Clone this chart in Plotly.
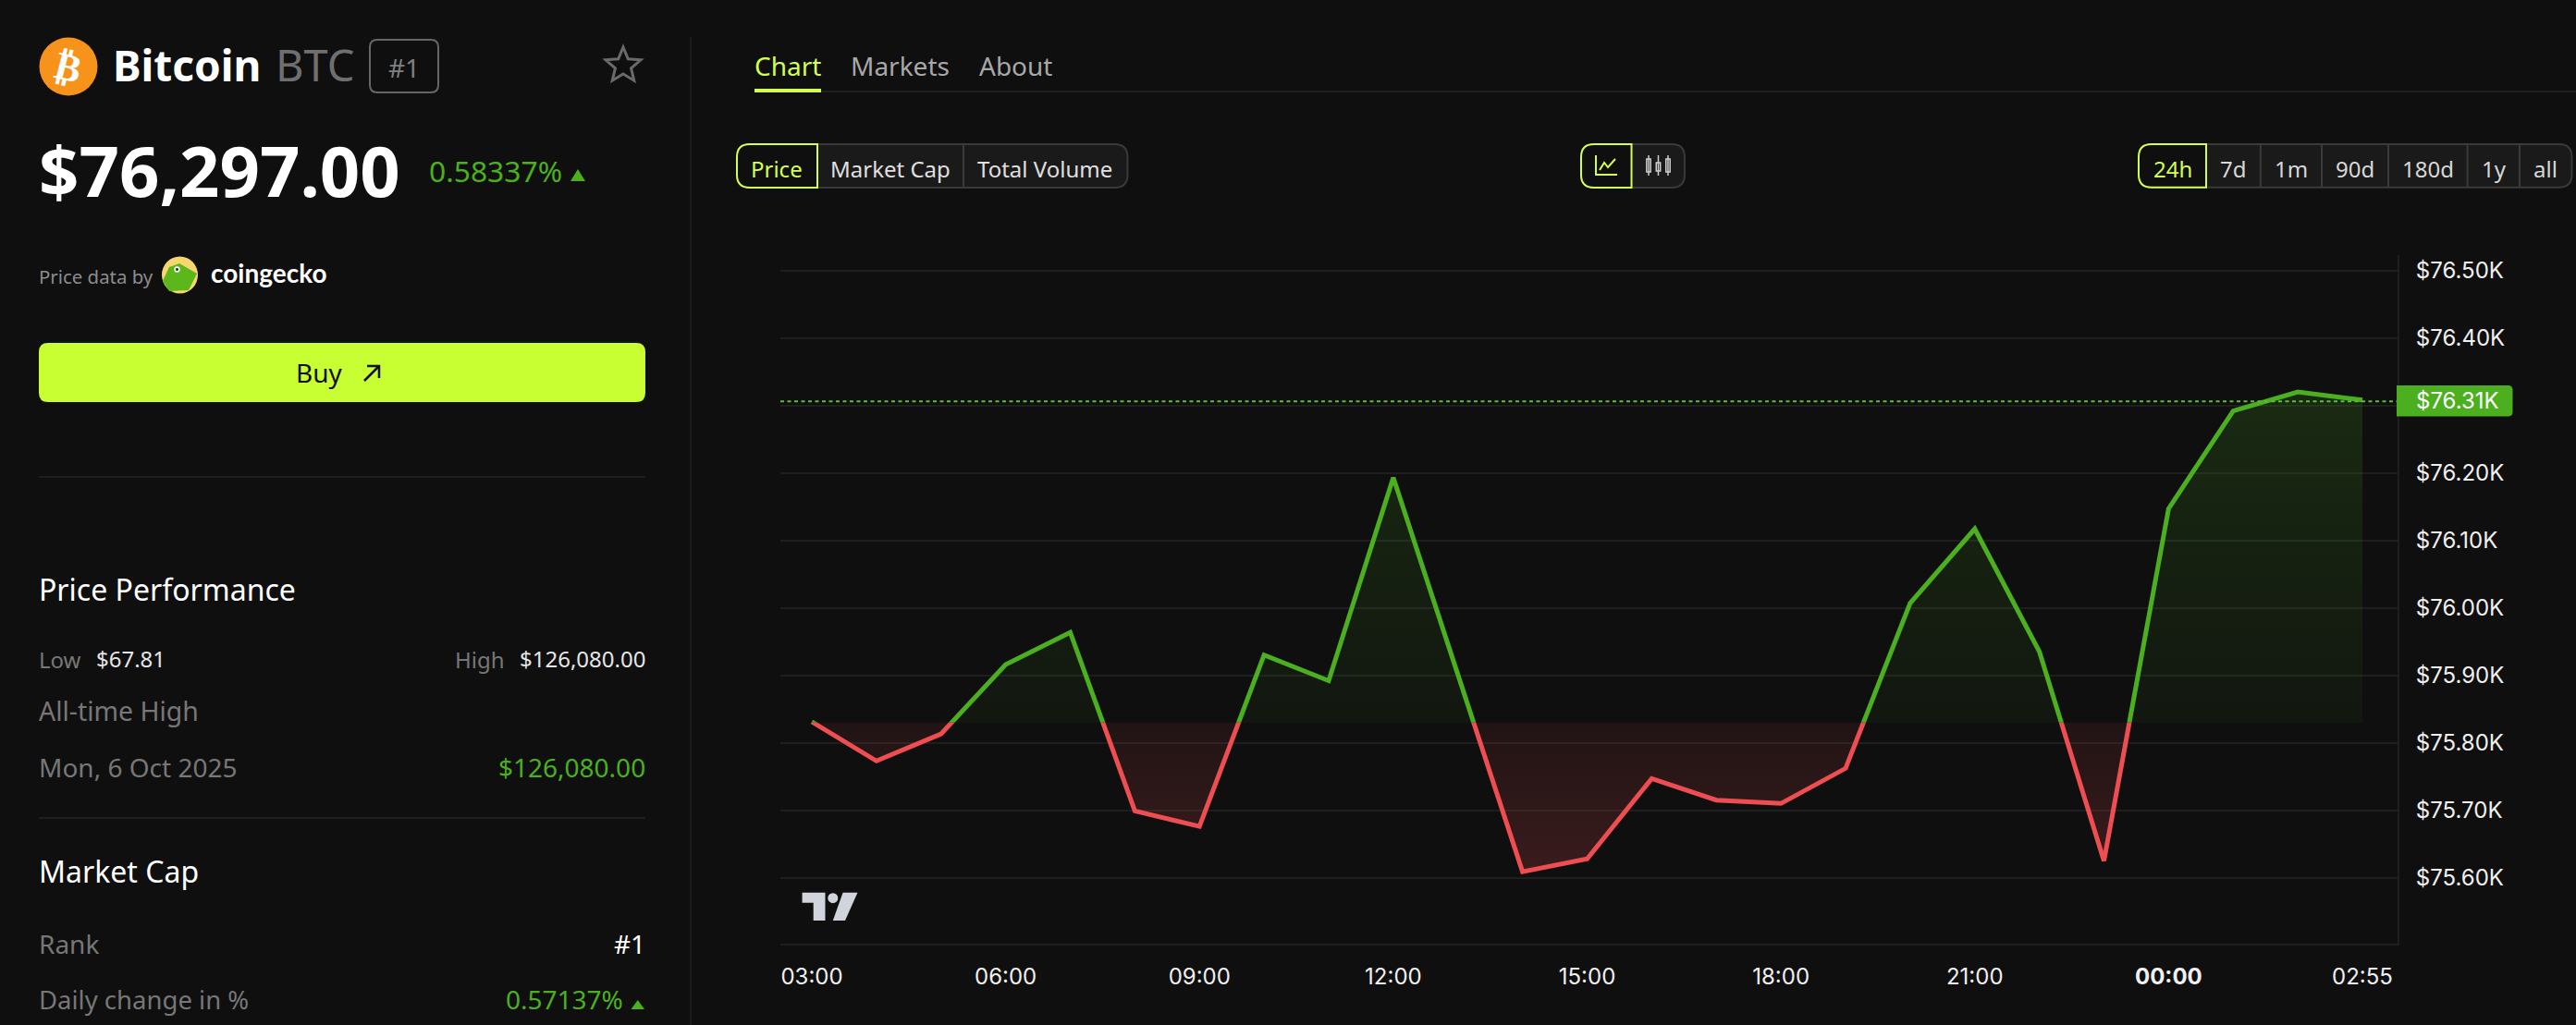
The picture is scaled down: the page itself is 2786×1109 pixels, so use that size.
import math
import plotly.graph_objects as go

W, H = 2786, 1109

hours = ["03:00","04:00","05:00","06:00","07:00","08:00","09:00","10:00","11:00","12:00",
         "13:00","14:00","15:00","16:00","17:00","18:00","19:00","20:00","21:00","22:00",
         "23:00","00:00","01:00","02:00","02:55"]
price_k = [75.831,75.773,75.813,75.916,75.9635,75.699,75.676,75.930,75.892,76.193,
           75.901,75.609,75.628,75.747,75.715,75.710,75.762,76.007,76.117,75.935,
           75.625,76.147,76.292,76.320,76.308]
baseline_value = 75.83
baseline_k = [baseline_value] * len(hours)
current_line = 76.306
x_tick_vals = ["03:00","06:00","09:00","12:00","15:00","18:00","21:00","00:00","02:55"]
x_tick_text = ["03:00","06:00","09:00","12:00","15:00","18:00","21:00","<b>00:00</b>","02:55"]
upper_ticks = [75.9,76.0,76.1,76.2,76.3,76.4,76.5]
upper_text = ["$75.90K","$76.00K","$76.10K","$76.20K","","$76.40K","$76.50K"]
lower_ticks = [75.6,75.7,75.8]
lower_text = ["$75.60K","$75.70K","$75.80K"]

BG = "#0f0f0f"
LIME = "#d4ff50"
GREEN = "#4caf1f"
RED = "#ee4e52"
GRID = "#1e1e1e"
UI = "Noto Sans"
AX = "Inter"

PL, PR, PT, PB = 844, 2593, 276, 1021
Y_BASE = 781.7

def X(p): return p / W
def Y(p): return 1 - p / H

shapes, annos = [], []

def text(x, y, s, size, color, anchor="left", weight=400, family=UI, angle=0):
    annos.append(dict(x=X(x), y=Y(y), xref="paper", yref="paper", text=s, showarrow=False,
                      xanchor=anchor, yanchor="middle", textangle=angle, borderpad=0, borderwidth=0,
                      font=dict(family=family, size=size, color=color, weight=weight)))

def path(pts, fill=None, line=None, width=0, close=False):
    d = "M " + " L ".join(f"{X(a):.5f} {Y(b):.5f}" for a, b in pts) + (" Z" if close else "")
    shapes.append(dict(type="path", path=d, xref="paper", yref="paper", layer="above",
                       fillcolor=fill or "rgba(0,0,0,0)",
                       line=dict(color=line or "rgba(0,0,0,0)", width=width)))

def rrect(x0, y0, x1, y1, rl=0, rr=0, fill=None, line=None, width=0):
    def pt(a, b): return f"{X(a):.5f} {Y(b):.5f}"
    d = (f"M {pt(x0+rl,y0)} L {pt(x1-rr,y0)} Q {pt(x1,y0)} {pt(x1,y0+rr)} L {pt(x1,y1-rr)} "
         f"Q {pt(x1,y1)} {pt(x1-rr,y1)} L {pt(x0+rl,y1)} Q {pt(x0,y1)} {pt(x0,y1-rl)} "
         f"L {pt(x0,y0+rl)} Q {pt(x0,y0)} {pt(x0+rl,y0)} Z")
    shapes.append(dict(type="path", path=d, xref="paper", yref="paper", layer="above",
                       fillcolor=fill or "rgba(0,0,0,0)",
                       line=dict(color=line or "rgba(0,0,0,0)", width=width)))

def circle(cx, cy, r, fill, ry=None):
    ry = ry or r
    shapes.append(dict(type="circle", xref="paper", yref="paper", layer="above",
                       x0=X(cx-r), x1=X(cx+r), y0=Y(cy+ry), y1=Y(cy-ry),
                       fillcolor=fill, line=dict(width=0)))

def hline(x0, x1, y, color="#1f1f1f", width=2):
    path([(x0, y), (x1, y)], line=color, width=width)

def segmented(x0, x1, y0, y1, dividers, active_right):
    rrect(x0, y0, x1, y1, 14, 14, fill="#1a1a1a", line="#3a3a3a", width=2)
    for d in dividers:
        path([(d, y0), (d, y1)], line="#3a3a3a", width=2)
    rrect(x0, y0, active_right, y1, 14, 0, fill=BG, line=LIME, width=2)

def triangle(x0, x1, y0, y1, color):
    path([(x0, y1), ((x0+x1)/2, y0), (x1, y1)], fill=color, close=True)

# ---- left panel ----
circle(74, 72, 31.5, "#f7931a")
text(74, 72, "<b>₿</b>", 42, "#ffffff", "center", family="DejaVu Sans", angle=14)
text(122, 70, "Bitcoin", 46, "#ffffff", weight=700)
text(298, 70, "BTC", 47, "#6f6f6f")
rrect(400, 43, 474, 100, 8, 8, line="#666666", width=2)
text(437, 73, "#1", 28, "#808080", "center")
star = []
for k in range(10):
    r = 20 if k % 2 == 0 else 9
    a = -math.pi/2 + k*math.pi/5
    star.append((674 + r*math.cos(a), 71 + r*math.sin(a)))
path(star, line="#6a6a6a", width=3, close=True)
text(42, 183, "$76,297.00", 76, "#ffffff", weight=700)
text(464, 185, "0.58337%", 31.8, GREEN)
triangle(617, 633, 183, 196, GREEN)
text(42, 299, "Price data by", 20.4, "#8c8c8c")
circle(194.5, 297.5, 19.5, "#f5d76e", ry=20)
path([(183, 289), (194, 285), (213, 296), (204, 314), (183, 315), (176, 304)], fill="#5cb81a", close=True)
circle(191.5, 291.5, 3.2, "#ffffff")
circle(191.5, 291.5, 1.4, "#111111")
text(228, 295, "coingecko", 28, "#ffffff", weight=700, family="Lato")
rrect(42, 371, 698, 435, 10, 10, fill="#c8ff33")
text(345, 403, "Buy", 28, "#101010", "center")
path([(394, 412), (410, 396)], line="#101010", width=2.5)
path([(397, 396), (410, 396), (410, 409)], line="#101010", width=2.5)
hline(42, 698, 516)
path([(747, 40), (747, H)], line="#1c1c1c", width=2)
text(42, 637, "Price Performance", 32, "#ffffff")
text(42, 713, "Low", 24, "#777777")
text(104, 712, "$67.81", 24, "#e6e6e6")
text(492, 713, "High", 24, "#777777")
text(698, 712, "$126,080.00", 24, "#e6e6e6", "right")
text(42, 769, "All-time High", 28.4, "#777777")
text(42, 830, "Mon, 6 Oct 2025", 28, "#777777")
text(698, 830, "$126,080.00", 28, GREEN, "right")
hline(42, 698, 885)
text(42, 942, "Market Cap", 32, "#ffffff")
text(42, 1021, "Rank", 28, "#777777")
text(698, 1021, "#1", 28, "#ffffff", "right")
text(42, 1081, "Daily change in %", 27.5, "#777777")
text(674, 1081, "0.57137%", 28, GREEN, "right")
triangle(682.5, 697, 1082, 1092, GREEN)

# ---- tabs ----
text(852, 71, "Chart", 28, LIME, "center")
text(974, 71, "Markets", 28, "#a8a8a8", "center")
text(1098, 71, "About", 28, "#a8a8a8", "center")
hline(888, W, 99, "#1f1f1f", 2)
rrect(816, 96, 888, 100, fill=LIME)

# ---- segmented controls ----
segmented(797, 1219.5, 156, 203, [1042], 884)
text(840, 182, "Price", 24, LIME, "center")
text(963, 182, "Market Cap", 24, "#e0e0e0", "center")
text(1130, 182, "Total Volume", 24, "#e0e0e0", "center")

segmented(1710, 1822, 156, 203, [], 1764.5)
path([(1726, 168), (1726, 189), (1749, 189)], line=LIME, width=2)
path([(1730, 184), (1735, 176), (1739, 181), (1747, 172)], line=LIME, width=2)
for cx, top, bot, hw in [(1783, 172, 186, 2.2), (1793.5, 176, 185, 2.2), (1804, 172, 186, 2.2)]:
    rrect(cx-hw, top, cx+hw, bot, line="#cfcfcf", width=1.5)
    path([(cx, 168), (cx, 190)], line="#cfcfcf", width=1.5)

segmented(2313, 2781.5, 156, 202.7, [2444.8, 2511, 2583, 2668.6, 2725], 2386)
for cx, lab, col in [(2349.6, "24h", LIME), (2415, "7d", "#d8d8d8"), (2477.8, "1m", "#d8d8d8"),
                     (2547, "90d", "#d8d8d8"), (2626, "180d", "#d8d8d8"),
                     (2697.4, "1y", "#d8d8d8"), (2753, "all", "#d8d8d8")]:
    text(cx, 182, lab, 24, col, "center")

# ---- chart extras ----
shapes.append(dict(type="line", xref="paper", yref="y", layer="above",
                   x0=X(PL), x1=X(PR), y0=current_line, y1=current_line,
                   line=dict(color="#5cc030", width=2, dash="4px,3.5px")))
rrect(2592, 417, 2717.5, 450.5, 0, 5, fill=GREEN)
text(2613, 434, "$76.31K", 24, "#ffffff", family=AX)

# TradingView mark
path([(867.6, 965.7), (892.5, 965.7), (892.5, 996), (879.7, 996), (879.7, 976.7), (867.6, 976.7)],
     fill="#d1d4dc", close=True)
circle(900.8, 971.7, 5.5, "#d1d4dc")
path([(911.6, 965.7), (927.5, 965.7), (914, 996), (900.8, 996)], fill="#d1d4dc", close=True)

# ---- traces ----
fig = go.Figure()
line_kw = dict(mode="lines", hoverinfo="skip", showlegend=False)
for ya, col, grad_start, grad_stop, cs in [
    ("y", GREEN, baseline_value, 76.32,
     [[0, "rgba(76,175,31,0.05)"], [1, "rgba(76,175,31,0.17)"]]),
    ("y2", RED, 75.6, baseline_value,
     [[0, "rgba(238,78,82,0.20)"], [1, "rgba(238,78,82,0.08)"]]),
]:
    fig.add_trace(go.Scatter(x=hours, y=baseline_k, yaxis=ya, line=dict(width=0), **line_kw))
    fig.add_trace(go.Scatter(x=hours, y=price_k, yaxis=ya, fill="tonexty",
                             fillgradient=dict(type="vertical", colorscale=cs,
                                               start=grad_start, stop=grad_stop),
                             line=dict(color=col, width=5, shape="linear"), **line_kw))

step = 69.875
x0_px = 878
axis_common = dict(side="right", anchor="x", showline=True, linecolor=GRID, linewidth=2,
                   showgrid=True, gridcolor=GRID, gridwidth=2, zeroline=False, ticks="outside",
                   ticklen=13, tickcolor="rgba(0,0,0,0)", tickmode="array",
                   tickfont=dict(family=AX, size=24, color="#f0f0f0"), fixedrange=True)

fig.update_layout(
    width=W, height=H, margin=dict(l=0, r=0, t=0, b=0), autosize=False,
    paper_bgcolor=BG, plot_bgcolor=BG, showlegend=False, hovermode=False,
    shapes=shapes, annotations=annos,
    xaxis=dict(domain=[X(PL), X(PR)], anchor="y2", type="category",
               categoryorder="array", categoryarray=hours,
               range=[(PL - x0_px)/step, (PR - x0_px)/step],
               showgrid=False, zeroline=False, showline=True, linecolor=GRID, linewidth=2,
               ticks="outside", ticklen=13, tickcolor="rgba(0,0,0,0)", tickmode="array",
               tickvals=x_tick_vals, ticktext=x_tick_text, tickangle=0,
               tickfont=dict(family=AX, size=24, color="#f0f0f0"), fixedrange=True),
    yaxis=dict(domain=[Y(Y_BASE), Y(PT)], range=[baseline_value, 76.5229],
               tickvals=upper_ticks, ticktext=upper_text, **axis_common),
    yaxis2=dict(domain=[Y(PB), Y(Y_BASE)], range=[75.5023, baseline_value],
                tickvals=lower_ticks, ticktext=lower_text, **axis_common),
)

fig.write_html("out.html", config={"displayModeBar": False, "staticPlot": True},
               post_script="document.body.style.margin='0';document.body.style.background='#0f0f0f';document.body.style.overflow='hidden';")
